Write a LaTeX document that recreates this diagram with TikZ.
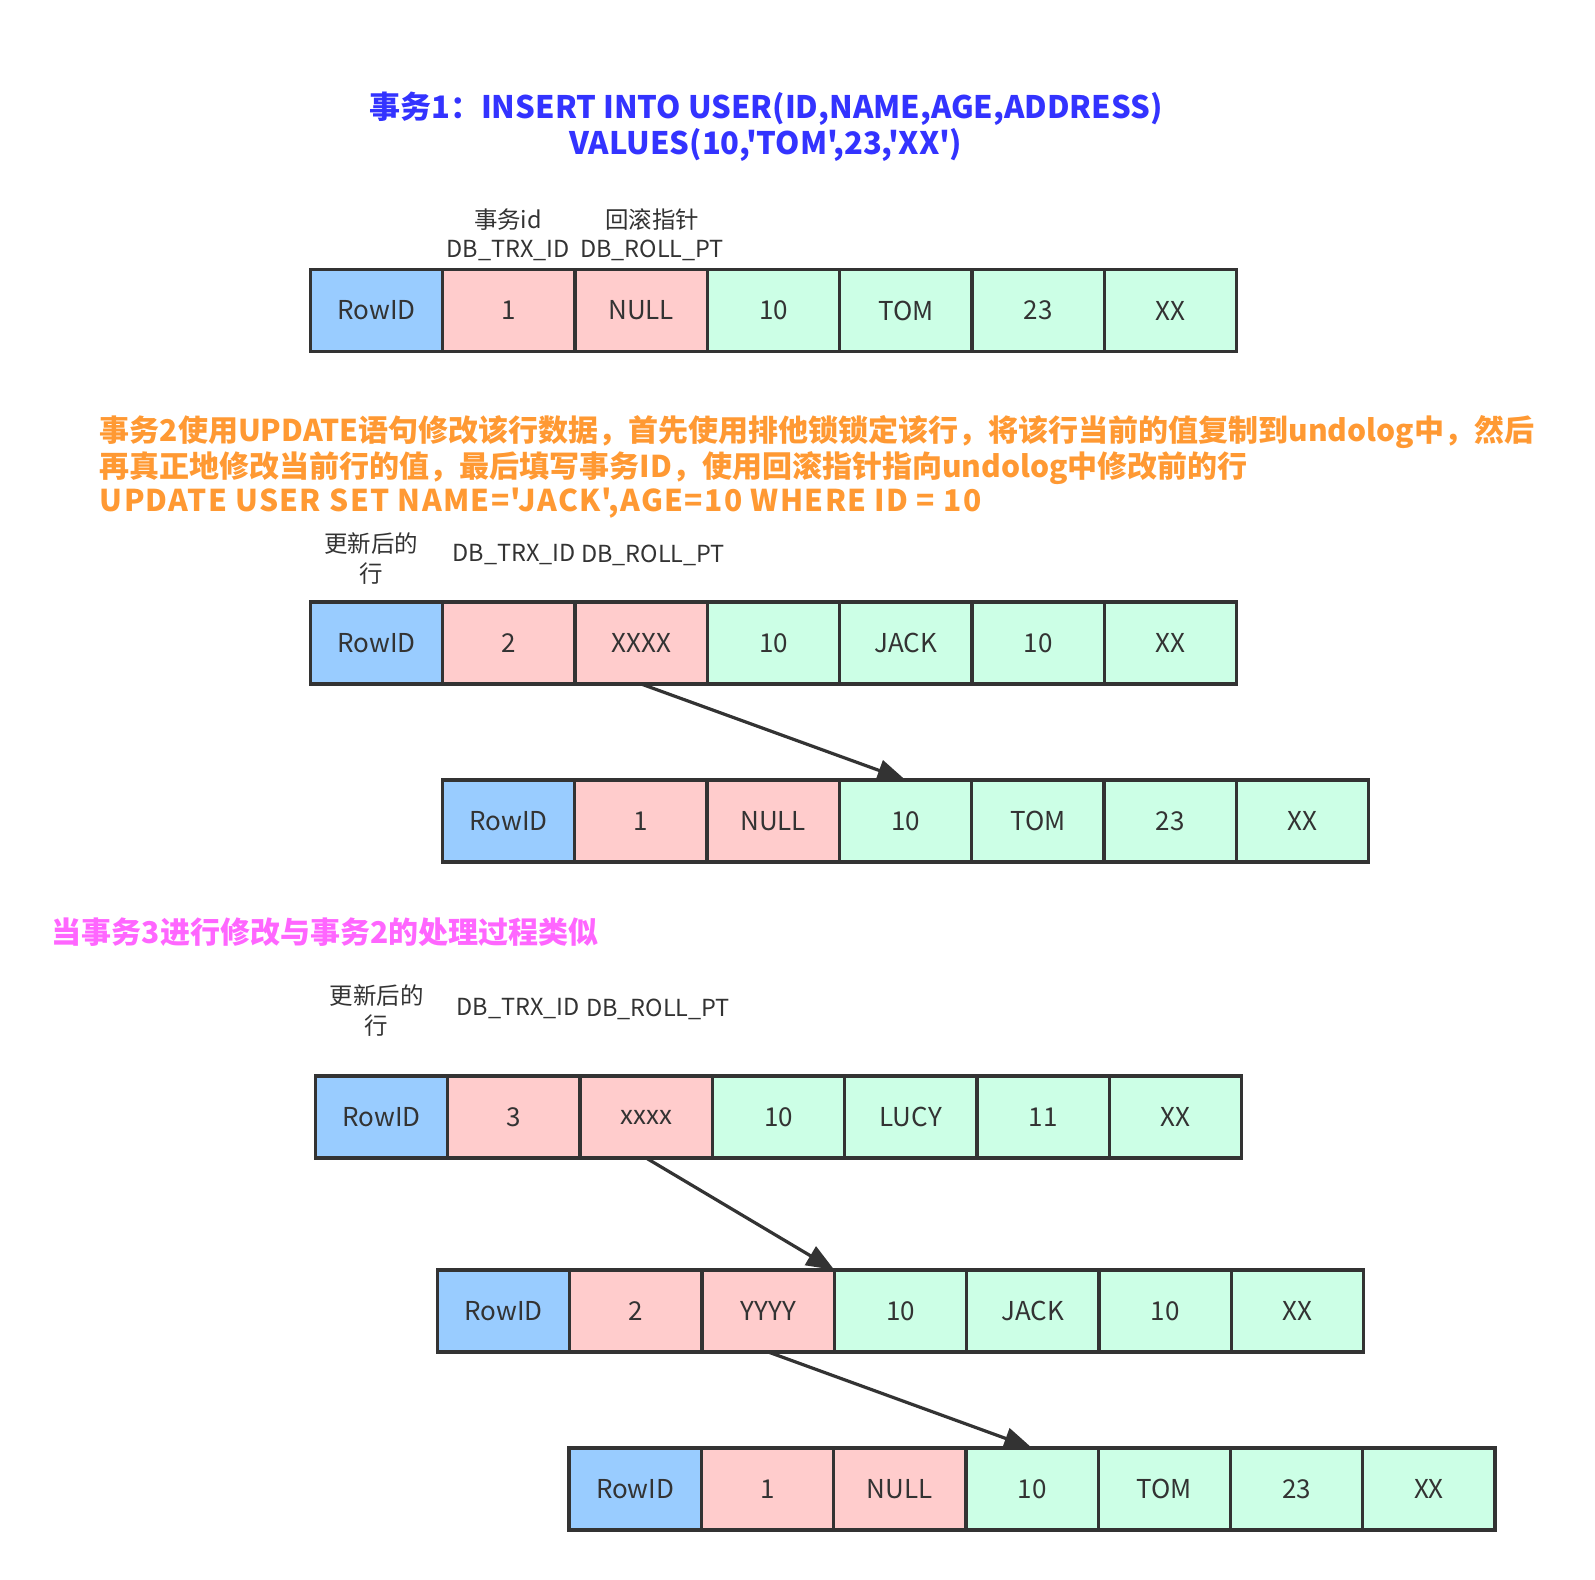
\documentclass[tikz,border=0pt]{standalone}
\usepackage{fontspec}
\setmainfont{Noto Sans CJK SC}[Ligatures=TeXOff]
\usetikzlibrary{arrows.meta}
\definecolor{ink}{HTML}{333333}
\definecolor{rowblue}{HTML}{99CCFF}
\definecolor{trxpink}{HTML}{FFCCCC}
\definecolor{datgreen}{HTML}{CCFFE6}
\definecolor{titleblue}{HTML}{3333FF}
\definecolor{noteorange}{HTML}{FF9933}
\definecolor{notepink}{HTML}{FF66FF}
\newcommand\tablerow[4]{%
  \foreach \v [count=\i from 0] in {#4} {%
    \ifnum\i=0 \def\fc{rowblue}\else\ifnum\i<3 \def\fc{trxpink}\else\def\fc{datgreen}\fi\fi
    \node[cell, fill=\fc] (#1-\i) at ({#2+(\i+0.5)*132.3},#3) {\v};
  }%
}
\begin{document}
\begin{tikzpicture}[x=0.75pt,y=-0.75pt,
  cell/.style={draw=ink, line width=2.5pt, minimum width=99.225pt, minimum height=61.5pt,
    inner sep=0pt, outer sep=0pt, font=\fontsize{19.5}{23}\selectfont, text=ink},
  lbl/.style={font=\fontsize{17.6}{22}\selectfont, text=ink, align=center, inner sep=0pt},
  titletext/.style={font=\bfseries\fontsize{23.25}{26.7}\selectfont, text=titleblue, align=center, inner sep=0pt},
  orangenote/.style={font=\bfseries\fontsize{22.5}{26}\selectfont, text=noteorange, anchor=west, inner sep=0pt},
  pinknote/.style={font=\bfseries\fontsize{22.5}{26}\selectfont, text=notepink, anchor=west, inner sep=0pt},
  ptr/.style={draw=ink, line width=2.4pt, -{Triangle[length=21pt,width=16pt]}}
]
\useasboundingbox (0,0) rectangle (1595,1580);

% title
\node[titletext] (title) at (766,126.5) {事务1：INSERT INTO USER(ID,NAME,AGE,ADDRESS)\\VALUES(10,'TOM',23,'XX')};

% row 1
\node[lbl] (l1a) at (508,235) {事务id\\DB\_TRX\_ID};
\node[lbl] (l1b) at (652,235) {回滚指针\\DB\_ROLL\_PT};
\tablerow{r1}{310.4}{310.5}{RowID,1,NULL,10,TOM,23,XX}

% orange note
\node[orangenote] (o1) at (99.5,432.5) {事务2使用UPDATE语句修改该行数据，首先使用排他锁锁定该行，将该行当前的值复制到undolog中，然后};
\node[orangenote] (o2) at (99.5,468.5) {再真正地修改当前行的值，最后填写事务ID，使用回滚指针指向undolog中修改前的行};
\node[orangenote] (o3) at (99.5,503.5) {\addfontfeature{LetterSpace=4.6}UPDATE USER SET NAME='JACK',AGE=10 WHERE ID = 10};

% row 2 and its undo row
\node[lbl] (l2a) at (371,558.5) {更新后的\\行};
\node[lbl] (l2b) at (514,555) {DB\_TRX\_ID};
\node[lbl] (l2c) at (653,555) {DB\_ROLL\_PT};
\tablerow{r2}{310.4}{643}{RowID,2,XXXX,10,JACK,10,XX}
\tablerow{r3}{442.4}{821}{RowID,1,NULL,10,TOM,23,XX}
\draw[ptr] (r2-2.south) -- (r3-3.north);

% pink note
\node[pinknote] (p1) at (51.5,932) {当事务3进行修改与事务2的处理过程类似};

% row 4,5,6
\node[lbl] (l4a) at (376.7,1010.5) {更新后的\\行};
\node[lbl] (l4b) at (518.3,1009) {DB\_TRX\_ID};
\node[lbl] (l4c) at (658,1009) {DB\_ROLL\_PT};
\tablerow{r4}{315.4}{1117}{RowID,3,xxxx,10,LUCY,11,XX}
\tablerow{r5}{437.5}{1311}{RowID,2,YYYY,10,JACK,10,XX}
\tablerow{r6}{569}{1489}{RowID,1,NULL,10,TOM,23,XX}
\draw[ptr] (r4-2.south) -- (r5-2.north east);
\draw[ptr] (r5-2.south) -- (r6-3.north);
\end{tikzpicture}
\end{document}
